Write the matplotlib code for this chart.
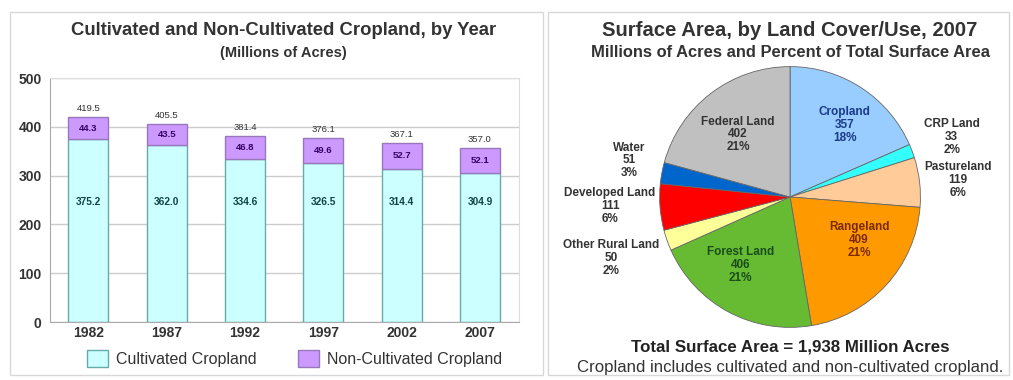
import matplotlib
matplotlib.use("Agg")
import matplotlib.pyplot as plt
from matplotlib.patches import Rectangle, Patch
import numpy as np

plt.rcParams['font.family'] = ['Liberation Sans', 'DejaVu Sans']

# bar chart data
years = ["1982", "1987", "1992", "1997", "2002", "2007"]
cultivated = [375.2, 362.0, 334.6, 326.5, 314.4, 304.9]
non_cultivated = [44.3, 43.5, 46.8, 49.6, 52.7, 52.1]
totals = [419.5, 405.5, 381.4, 376.1, 367.1, 357.0]

# pie chart data
land_types = ["Cropland", "CRP Land", "Pastureland", "Rangeland", "Forest Land",
              "Other Rural Land", "Developed Land", "Water", "Federal Land"]
land_acres = [357, 33, 119, 409, 406, 50, 111, 51, 402]
land_pct = ["18%", "2%", "6%", "21%", "21%", "2%", "6%", "3%", "21%"]

PIE_COLORS = ["#99ccff", "#33ffff", "#ffcc99", "#ff9900", "#66bb33",
              "#ffff99", "#ff0000", "#0066cc", "#c0c0c0"]
# label placement (axes data units, pie radius = 1) and text colour
LABEL_POS = [(0.42, 0.55), (1.24, 0.46), (1.29, 0.13), (0.53, -0.33), (-0.38, -0.52),
             (-1.37, -0.47), (-1.38, -0.07), (-1.23, 0.28), (-0.40, 0.48)]
LABEL_COL = ["#1a3a8a", "#333333", "#333333", "#7a2a00", "#1a4d1a",
             "#333333", "#333333", "#333333", "#333333"]

fig = plt.figure(figsize=(10.13, 3.8), dpi=100)

# panel frames
for x0, w in [(0.0099, 0.526), (0.541, 0.455)]:
    fig.add_artist(Rectangle((x0, 0.013), w, 0.955, transform=fig.transFigure,
                             fill=False, edgecolor="#d8d8d8", linewidth=1.0))

# ---- left: stacked bars ----
ax = fig.add_axes([0.0494, 0.1526, 0.4630, 0.6421])
x = np.arange(len(years))
ax.bar(x, cultivated, width=0.51, color="#ccffff", edgecolor="#66aaaa", linewidth=1.0, zorder=3)
ax.bar(x, non_cultivated, width=0.51, bottom=cultivated, color="#cc99ff",
       edgecolor="#9977bb", linewidth=1.0, zorder=3)
ax.set_xlim(-0.49, 5.5)
ax.set_ylim(0, 500)
ax.set_yticks([0, 100, 200, 300, 400, 500])
ax.set_yticklabels(["0", "100", "200", "300", "400", "500"], fontsize=10,
                   fontweight="bold", color="#333333")
ax.set_xticks(x)
ax.set_xticklabels(years, fontsize=10, fontweight="bold", color="#333333")
ax.tick_params(axis="both", length=0, pad=3)
ax.tick_params(axis="y", pad=6)
ax.grid(axis="y", color="#cccccc", linewidth=1.0, zorder=0)
for side in ["top", "right"]:
    ax.spines[side].set_color("#dddddd")
for side in ["left", "bottom"]:
    ax.spines[side].set_color("#aaaaaa")

for i in range(len(years)):
    ax.text(x[i], 245, f"{cultivated[i]:.1f}", ha="center", va="center",
            fontsize=7.3, fontweight="bold", color="#114444", zorder=4)
    ax.text(x[i], cultivated[i] + non_cultivated[i] / 2, f"{non_cultivated[i]:.1f}",
            ha="center", va="center", fontsize=6.8, fontweight="bold", color="#330066", zorder=4)
    ax.annotate(f"{totals[i]:.1f}", (x[i], totals[i]), xytext=(0, 3),
                textcoords="offset points", ha="center", va="bottom",
                fontsize=6.8, color="#333333")

fig.text(0.2795, 0.921, "Cultivated and Non-Cultivated Cropland, by Year",
         ha="center", va="center", fontsize=13.3, fontweight="bold", color="#333333")
fig.text(0.2795, 0.861, "(Millions of Acres)", ha="center", va="center",
         fontsize=10.5, fontweight="bold", color="#333333")

handles = [Patch(facecolor="#ccffff", edgecolor="#66aaaa"),
           Patch(facecolor="#cc99ff", edgecolor="#9977bb")]
fig.legend(handles, ["Cultivated Cropland", "Non-Cultivated Cropland"],
           loc="center", bbox_to_anchor=(0.291, 0.057), ncol=2, frameon=False,
           fontsize=11.5, handlelength=1.3, handleheight=1.3, columnspacing=2.6,
           handletextpad=0.5, labelcolor="#333333")

# ---- right: pie ----
pax = fig.add_axes([0.6486, 0.1316, 0.2626, 0.70])
pax.pie(land_acres, colors=PIE_COLORS, startangle=90, counterclock=False,
        radius=1.0, wedgeprops=dict(edgecolor="#666666", linewidth=0.6))
pax.set_xlim(-1.02, 1.02)
pax.set_ylim(-1.02, 1.02)
pax.set_aspect("equal")
pax.axis("off")
for name, val, pct, pos, col in zip(land_types, land_acres, land_pct, LABEL_POS, LABEL_COL):
    pax.text(pos[0], pos[1], f"{name}\n{val}\n{pct}", ha="center", va="center",
             fontsize=8.5, fontweight="bold", color=col, linespacing=1.1, clip_on=False)

fig.text(0.780, 0.921, "Surface Area, by Land Cover/Use, 2007", ha="center", va="center",
         fontsize=14.6, fontweight="bold", color="#333333")
fig.text(0.780, 0.861, "Millions of Acres and Percent of Total Surface Area",
         ha="center", va="center", fontsize=11.9, fontweight="bold", color="#333333")
fig.text(0.780, 0.087, "Total Surface Area = 1,938 Million Acres", ha="center",
         va="center", fontsize=12.2, fontweight="bold", color="#222222")
fig.text(0.780, 0.034, "Cropland includes cultivated and non-cultivated cropland.",
         ha="center", va="center", fontsize=12.1, color="#333333")

fig.savefig("out.png", dpi=100)
